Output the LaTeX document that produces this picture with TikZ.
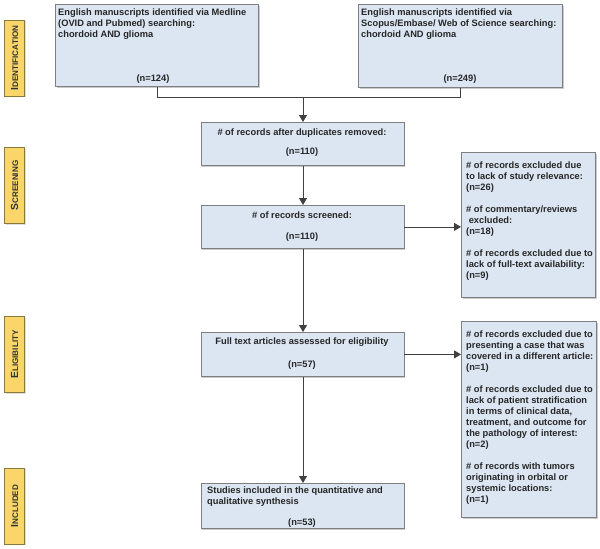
\documentclass[tikz,border=0pt]{standalone}
\usepackage{fontspec}
\setmainfont{Liberation Sans}
\usetikzlibrary{arrows.meta,shadows}
\definecolor{boxfill}{HTML}{DCE6F2}
\definecolor{boxline}{HTML}{7F7F7F}
\definecolor{labfill}{HTML}{FAD66A}
\definecolor{labline}{HTML}{8A7A3A}
\definecolor{linecol}{HTML}{404040}
\tikzset{
  box/.style={draw=boxline, line width=0.8pt, fill=boxfill, inner sep=0pt, anchor=north west,
    drop shadow={shadow xshift=1.2pt, shadow yshift=-1.2pt, fill=black!35, opacity=0.6}},
  txt/.style={inner sep=0pt, font=\bfseries\fontsize{9.3}{11}\selectfont, align=left, text=black!85},
  ctxt/.style={inner sep=0pt, font=\bfseries\fontsize{9.3}{11}\selectfont, align=center, text=black!85},
  phase/.style={draw=labline, line width=0.7pt, fill=labfill, rotate=90, minimum width=76pt, minimum height=20pt,
    inner sep=0pt, font=\bfseries, text=black!80,
    drop shadow={shadow xshift=1pt, shadow yshift=-1pt, fill=black!25, opacity=0.5}},
  conn/.style={draw=linecol, line width=0.8pt},
  arr/.style={conn, -{Triangle[width=8pt,length=7pt]}}
}
\newcommand{\bigsc}[2]{{\fontsize{10.3}{10.3}\selectfont #1}{\fontsize{8.1}{8.1}\selectfont #2}}
\begin{document}
\begin{tikzpicture}[x=1pt,y=-1pt]
\useasboundingbox (0,0) rectangle (600,549);
% phase labels
\node[phase] (pid) at (14.5,58) {\bigsc{I}{DENTIFICATION}};
\node[phase] (psc) at (14.5,185.5) {\bigsc{S}{CREENING}};
\node[phase] (pel) at (14.5,354.5) {\bigsc{E}{LIGIBILITY}};
\node[phase] (pin) at (14.5,506) {\bigsc{I}{NCLUDED}};
% boxes
\node[box, minimum width=203pt, minimum height=82pt] (b1) at (55,4) {};
\node[txt, anchor=north west] (t1) at (58,9) {English manuscripts identified via Medline\\(OVID and Pubmed) searching:\\chordoid AND glioma};
\node[ctxt] (n1) at (153,79) {(n=124)};
\node[box, minimum width=204pt, minimum height=83pt] (b2) at (358,4) {};
\node[txt, anchor=north west] (t2) at (361,9) {English manuscripts identified via\\Scopus/Embase/ Web of Science searching:\\chordoid AND glioma};
\node[ctxt] (n2) at (460,79) {(n=249)};
\node[box, minimum width=203pt, minimum height=43pt] (b3) at (200.5,122) {};
\node[ctxt] (t3) at (302,133) {\# of records after duplicates removed:};
\node[ctxt] (n3) at (302,152.5) {(n=110)};
\node[box, minimum width=203pt, minimum height=43pt] (b4) at (200.5,205) {};
\node[ctxt] (t4) at (302,215.5) {\# of records screened:};
\node[ctxt] (n4) at (302,237) {(n=110)};
\node[box, minimum width=203pt, minimum height=44pt] (b5) at (200.5,332) {};
\node[ctxt] (t5) at (302,342.5) {Full text articles assessed for eligibility};
\node[ctxt] (n5) at (302,365) {(n=57)};
\node[box, minimum width=203pt, minimum height=45pt] (b6) at (200.5,483) {};
\node[txt, anchor=north west] (t6) at (207,487) {Studies included in the quantitative and\\qualitative synthesis};
\node[ctxt] (n6) at (302,523) {(n=53)};
\node[box, minimum width=134pt, minimum height=145pt] (r1) at (461,152) {};
\node[txt, anchor=north west] (tr1) at (466,161.5) {\# of records excluded due\\to lack of study relevance:\\(n=26)\\[11pt]\# of commentary/reviews\\\ excluded:\\(n=18)\\[11pt]\# of records excluded due to\\lack of full-text availability:\\(n=9)};
\node[box, minimum width=135pt, minimum height=196pt] (r2) at (461,321) {};
\node[txt, anchor=north west] (tr2) at (466,330.5) {\# of records excluded due to\\presenting a case that was\\covered in a different article:\\(n=1)\\[11pt]\# of records excluded due to\\lack of patient stratification\\in terms of clinical data,\\treatment, and outcome for\\the pathology of interest:\\(n=2)\\[11pt]\# of records with tumors\\originating in orbital or\\systemic locations:\\(n=1)};
% connectors
\coordinate (j) at (303,97);
\draw[conn] (b1.south) |- (j);
\draw[conn] (b2.south) |- (j);
\draw[arr] (j) -- (j |- b3.north);
\draw[arr] (b3.south -| j) -- (j |- b4.north);
\draw[arr] (b4.south -| j) -- (j |- b5.north);
\draw[arr] (b5.south -| j) -- (j |- b6.north);
\draw[arr] (b4.east) -- (b4.east -| r1.west);
\draw[arr] (b5.east) -- (b5.east -| r2.west);
\end{tikzpicture}
\end{document}
